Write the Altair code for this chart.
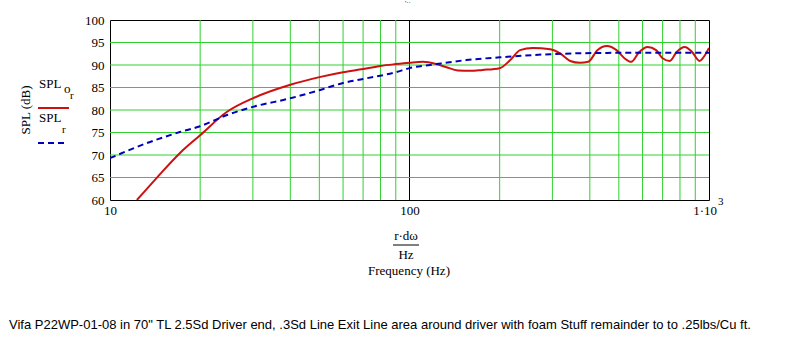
import altair as alt
import pandas as pd

# ---- data ----
red_f = [12.3, 14.4, 17.1, 20, 24.6, 30, 40, 50, 60, 70, 80, 90, 100, 111, 123, 133, 145, 160, 175, 200,
         217, 234, 258, 295, 318, 344, 371, 395, 424, 456, 491, 522, 550, 585, 624, 666, 700, 740,
         780, 830, 878, 930, 965, 1000]
red_db = [60, 65.1, 70.4, 74.4, 79.6, 82.6, 85.6, 87.3, 88.4, 89.1, 89.8, 90.2, 90.5, 90.7, 90.2, 89.5, 88.8, 88.7, 88.9, 89.3,
          91.1, 93.3, 93.8, 93.5, 92.6, 90.9, 90.5, 90.7, 93.3, 94.2, 93.3, 91.5, 90.7, 92.9, 94.0, 93.3, 91.5, 90.9,
          92.9, 94.0, 92.9, 90.9, 92.0, 93.8]

blue_f = [10, 13.6, 17.1, 20, 24.6, 30, 40, 50, 60, 70, 90, 100, 123, 155, 200, 295, 491, 1000]
blue_db = [69.3, 72.9, 75.1, 76.4, 78.9, 80.7, 82.6, 84.4, 86.0, 86.9, 88.4, 89.3, 90.2, 91.1, 91.7, 92.4, 92.7, 92.7]

grid_f = [20, 30, 40, 50, 60, 70, 80, 90, 200, 300, 400, 500, 600, 700, 800, 900]
grid_db = [65, 70, 75, 80, 85, 90, 95]
y_ticks = [60, 65, 70, 75, 80, 85, 90, 95, 100]
x_ticks = [10, 100, 1000]

caption = 'Vifa P22WP-01-08 in 70" TL 2.5Sd Driver end, .3Sd Line Exit Line area around driver with foam Stuff remainder to to .25lbs/Cu ft.'

SERIF = "Liberation Serif, Times New Roman, serif"
NARROW = "Liberation Sans Narrow, Arial Narrow, Liberation Sans, Arial, sans-serif"
GREEN = "#2fd02f"
RED = "#cc1111"
BLUE = "#0000bb"

xs = alt.Scale(type="log", domain=[10, 1000], nice=False)
ys = alt.Scale(domain=[60, 100], nice=False, zero=False)

X_AX = alt.Axis(values=x_ticks, labelExpr="datum.value == 1000 ? '' : datum.label",
                ticks=False, domain=False, grid=False, title=None,
                labelFont=SERIF, labelFontSize=13, labelColor="black",
                labelPadding=4, labelFlush=False, labelOverlap=False)
Y_AX = alt.Axis(values=y_ticks, ticks=False, domain=False, grid=False, title=None,
                labelFont=SERIF, labelFontSize=13, labelColor="black",
                labelPadding=6, labelFlush=False, labelOverlap=False)


def X(field="f"):
    return alt.X(f"{field}:Q", scale=xs, axis=X_AX)


def Y(field="db"):
    return alt.Y(f"{field}:Q", scale=ys, axis=Y_AX)


vgrid = alt.Chart(pd.DataFrame({"f": grid_f})).mark_rule(color=GREEN, strokeWidth=1).encode(x=X())
hundred = alt.Chart(pd.DataFrame({"f": [100]})).mark_rule(color="black", strokeWidth=1).encode(x=X())
hgrid = alt.Chart(pd.DataFrame({"db": grid_db})).mark_rule(color=GREEN, strokeWidth=1).encode(y=Y())

red_line = alt.Chart(pd.DataFrame({"f": red_f, "db": red_db})).mark_line(
    color=RED, strokeWidth=2, interpolate="monotone", clip=True
).encode(x=X(), y=Y())

blue_line = alt.Chart(pd.DataFrame({"f": blue_f, "db": blue_db})).mark_line(
    color=BLUE, strokeWidth=2, strokeDash=[6, 4], interpolate="monotone", clip=True
).encode(x=X(), y=Y())


def txt(s, x, y, size=13, font=SERIF, align="left", baseline="alphabetic", angle=None):
    kw = dict(text=s, font=font, fontSize=size, align=align, baseline=baseline, color="black")
    if angle is not None:
        kw["angle"] = angle
    return alt.Chart(pd.DataFrame({"t": [s]})).mark_text(**kw).encode(x=alt.value(x), y=alt.value(y))


def seg(x1, x2, y, color, dash=None, width=2):
    kw = dict(color=color, strokeWidth=width)
    if dash:
        kw["strokeDash"] = dash
    return alt.Chart(pd.DataFrame({"a": [0]})).mark_rule(**kw).encode(
        x=alt.value(x1), x2=alt.value(x2), y=alt.value(y))


# plot origin is at (110, 20) in the page
ox, oy = 110, 20
texts = [
    txt("SPL (dB)", 26 - ox, 110 - oy, angle=270, align="center", baseline="middle"),
    txt("SPL", 39 - ox, 88 - oy),
    txt("o", 64 - ox, 93 - oy),
    txt("r", 70 - ox, 99 - oy, size=11),
    txt("SPL", 39 - ox, 122 - oy),
    txt("r", 62 - ox, 133 - oy, size=11),
    txt("1·10", 717 - ox, 215 - oy, align="right"),
    txt("3", 718 - ox, 205 - oy, size=11),
    txt("r·dω", 406 - ox, 240 - oy, align="center"),
    txt("Hz", 406 - ox, 259 - oy, align="center"),
    txt("Frequency (Hz)", 409 - ox, 275 - oy, align="center"),
    txt(caption, 9 - ox, 329 - oy, size=13, font=NARROW),
    txt("'··", 408 - ox, 5 - oy, size=7, align="center"),
]
legend = [
    seg(38 - ox, 69 - ox, 108 - oy, RED),
    seg(38 - ox, 68 - ox, 143 - oy, BLUE, dash=[6, 4]),
    seg(393 - ox, 419 - ox, 245 - oy, "black", width=1),
]

chart = alt.layer(vgrid, hundred, hgrid, red_line, blue_line, *legend, *texts).properties(
    width=599, height=180,
    autosize=alt.AutoSizeParams(type="none"),
    padding={"left": 110, "top": 20, "right": 85, "bottom": 155},
    background="white",
).configure_view(stroke="black", strokeWidth=1)

chart.save("out.html", embed_options={"renderer": "svg", "actions": False})
